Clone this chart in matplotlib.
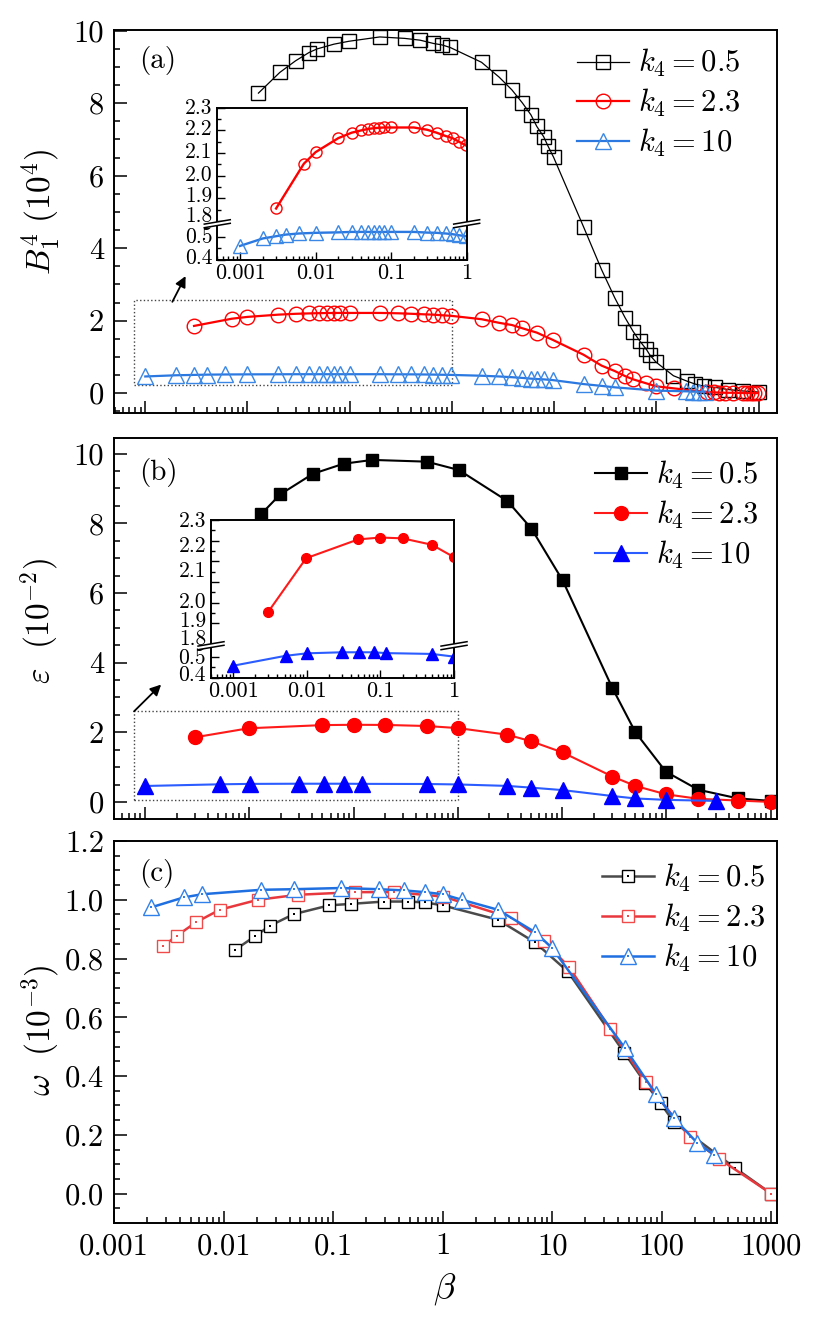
import numpy as np
import matplotlib as mpl
import matplotlib.pyplot as plt
from matplotlib import ticker
from matplotlib.patches import Polygon, Rectangle

mpl.rcParams['font.family'] = 'serif'
mpl.rcParams['font.serif'] = ['cmr10']
mpl.rcParams['mathtext.fontset'] = 'cm'
mpl.rcParams['axes.unicode_minus'] = False
mpl.rcParams['axes.formatter.use_mathtext'] = True

# ---- (a) B_1^4 (10^4) ----
a_x_k05 = [0.0128, 0.0207, 0.0295, 0.040, 0.048, 0.070, 0.098, 0.197, 0.345, 0.49, 0.66, 0.80, 0.96,
           1.95, 2.9, 3.86, 4.89, 5.93, 6.77, 7.89, 8.74, 9.88, 19.4, 29.1, 39.2, 49.5, 59.4, 69.2,
           79.8, 86.6, 98.9, 147, 200, 240, 290, 375, 500, 700, 1000]
a_y_k05 = [8.28, 8.85, 9.17, 9.40, 9.50, 9.63, 9.71, 9.83, 9.79, 9.74, 9.65, 9.61, 9.54,
           9.13, 8.72, 8.37, 8.01, 7.68, 7.36, 7.08, 6.81, 6.51, 4.59, 3.41, 2.63, 2.08, 1.70, 1.43,
           1.21, 1.05, 0.86, 0.48, 0.33, 0.25, 0.19, 0.16, 0.10, 0.06, 0.03]
a_x_k23 = [0.003, 0.007, 0.01, 0.02, 0.03, 0.04, 0.05, 0.06, 0.07, 0.08, 0.1, 0.2, 0.3, 0.4, 0.53,
           0.65, 0.8, 0.98, 1.95, 2.9, 3.86, 4.89, 6.77, 9.7, 19.4, 29.1, 39.2, 49.5, 59.4, 79.8,
           98.9, 150, 310, 366, 413, 470, 567, 700, 767, 838, 903, 978]
a_y_k23 = [1.855, 2.053, 2.104, 2.166, 2.19, 2.20, 2.207, 2.21, 2.212, 2.213, 2.213, 2.213, 2.203,
           2.19, 2.175, 2.166, 2.149, 2.134, 2.04, 1.94, 1.88, 1.79, 1.67, 1.47, 1.06, 0.76, 0.61,
           0.47, 0.38, 0.27, 0.19, 0.13, 0.03, 0.02, 0.015, 0.01, 0.01, 0.005, 0.0, 0.0, 0.0, 0.0]
a_x_k10 = [0.001, 0.002, 0.003, 0.004, 0.006, 0.01, 0.02, 0.03, 0.04, 0.05, 0.06, 0.07, 0.08, 0.1,
           0.2, 0.3, 0.4, 0.53, 0.65, 0.8, 0.98, 1.95, 2.9, 3.86, 4.89, 5.93, 6.77, 7.89, 9.7, 19.4,
           29.1, 39.2, 100, 195, 230, 260, 300]
a_y_k10 = [0.46, 0.493, 0.503, 0.51, 0.515, 0.518, 0.52, 0.522, 0.522, 0.522, 0.522, 0.522, 0.522,
           0.522, 0.522, 0.519, 0.518, 0.515, 0.512, 0.507, 0.503, 0.48, 0.46, 0.44, 0.42, 0.40,
           0.39, 0.38, 0.36, 0.25, 0.20, 0.16, 0.07, 0.05, 0.045, 0.04, 0.04]

# ---- (b) epsilon (10^-2) ----
b_x_k05 = [0.013, 0.0197, 0.0405, 0.0798, 0.151, 0.502, 1.02, 2.98, 5.06, 10.1, 30.3, 50.4, 98.6,
           202, 488, 1000]
b_y_k05 = [8.27, 8.83, 9.42, 9.71, 9.82, 9.77, 9.53, 8.64, 7.85, 6.36, 3.27, 2.0, 0.87, 0.35, 0.10,
           0.03]
b_x_k23 = [0.003, 0.0098, 0.05, 0.1, 0.2, 0.5, 1.0, 2.98, 5.06, 10.1, 30.3, 50.4, 98.6, 202, 488,
           1000]
b_y_k23 = [1.856, 2.115, 2.206, 2.215, 2.211, 2.18, 2.12, 1.93, 1.74, 1.42, 0.73, 0.46, 0.22, 0.09,
           0.04, 0.0]
b_x_k10 = [0.001, 0.00516, 0.0101, 0.0299, 0.0517, 0.0809, 0.119, 0.5, 1.0, 2.98, 5.06, 10.1, 30.3,
           50.4, 98.6, 296]
b_y_k10 = [0.458, 0.506, 0.518, 0.523, 0.523, 0.523, 0.519, 0.515, 0.502, 0.46, 0.41, 0.34, 0.17,
           0.10, 0.06, 0.03]

# ---- (c) omega (10^-3) ----
c_x_k05 = [0.0128, 0.0195, 0.0263, 0.0437, 0.092, 0.145, 0.292, 0.485, 0.697, 1.0, 3.2, 6.97, 13.9,
           45.5, 71, 98, 129, 469, 1000]
c_y_k05 = [0.830, 0.877, 0.911, 0.951, 0.981, 0.986, 0.994, 0.994, 0.991, 0.981, 0.932, 0.855,
           0.756, 0.480, 0.376, 0.307, 0.244, 0.087, 0.0]
c_x_k23 = [0.00278, 0.00372, 0.00558, 0.0092, 0.0206, 0.0475, 0.157, 0.36, 1.01, 4.25, 8.4, 14.3,
           34.1, 72, 180, 336, 1000]
c_y_k23 = [0.841, 0.877, 0.923, 0.966, 1.0, 1.017, 1.026, 1.026, 1.011, 0.938, 0.861, 0.770, 0.560,
           0.379, 0.193, 0.118, 0.0]
c_x_k10 = [0.00217, 0.00432, 0.0064, 0.0221, 0.044, 0.118, 0.26, 0.44, 0.685, 1.0, 1.5, 3.2, 7.03,
           9.98, 46, 89, 129, 212, 300]
c_y_k10 = [0.974, 1.008, 1.019, 1.034, 1.036, 1.040, 1.036, 1.032, 1.026, 1.019, 1.0, 0.966, 0.889,
           0.836, 0.496, 0.338, 0.257, 0.172, 0.133]

labels = [r'$k_4=0.5$', r'$k_4=2.3$', r'$k_4=10$']
main_xticks = [0.001, 0.01, 0.1, 1, 10, 100, 1000]
inset_xticks = [0.001, 0.01, 0.1, 1]
inset_yticks = [0.4, 0.5, 1.8, 1.9, 2.0, 2.1, 2.2, 2.3]
inset_yminor = [0.45, 1.85, 1.95, 2.05, 2.15, 2.25]
# where the inset tick labels sit in the original (axes fraction, bottom=0)
insa_label_pos = [0.01, 0.15, 0.285, 0.415, 0.553, 0.705, 0.857, 1.0]
insb_label_pos = [0.017, 0.125, 0.245, 0.356, 0.479, 0.676, 0.835, 0.994]
xtick_fmt = ticker.FuncFormatter(lambda v, p: '%g' % v)

FW, FH = 815, 1318
fig = plt.figure(figsize=(FW / 100, FH / 100), dpi=100)
axa = fig.add_axes([0.1394, 0.6866, 0.8134, 0.2906])
axb = fig.add_axes([0.1394, 0.3786, 0.8134, 0.2891])
axc = fig.add_axes([0.1394, 0.0721, 0.8134, 0.2898])

LEG = dict(loc='upper left', frameon=False, fontsize=22, handlelength=1.7, handletextpad=0.3,
           labelspacing=0.25, borderpad=0, borderaxespad=0)


def style_main(ax):
    ax.set_xscale('log')
    ax.tick_params(which='both', direction='in', top=False, right=False, labelsize=22, pad=7)
    ax.tick_params(which='major', length=9, width=1.1)
    ax.tick_params(which='minor', length=4.5, width=1.1)
    for s in ax.spines.values():
        s.set_linewidth(1.4)
    ax.xaxis.set_major_locator(ticker.FixedLocator(main_xticks))
    ax.xaxis.set_minor_locator(ticker.LogLocator(base=10, subs=np.arange(2, 10), numticks=20))
    ax.xaxis.set_major_formatter(xtick_fmt)
    ax.xaxis.set_minor_formatter(ticker.NullFormatter())


def style_inset(ax, c, hi_bot, label_pos):
    ax.set_xscale('log')
    xp = [-10, 0.53, hi_bot, 10]
    fp = [-10 + c, 0.53 + c, hi_bot, 10]
    ax.set_yscale('function', functions=(lambda y: np.interp(y, xp, fp),
                                         lambda y: np.interp(y, fp, xp)))
    ax.set_xlim(0.0005, 1)
    ax.set_ylim(0.4, 2.3)
    ax.xaxis.set_major_locator(ticker.FixedLocator(inset_xticks))
    ax.xaxis.set_minor_locator(ticker.LogLocator(base=10, subs=np.arange(2, 10), numticks=20))
    ax.xaxis.set_major_formatter(xtick_fmt)
    ax.xaxis.set_minor_formatter(ticker.NullFormatter())
    ax.yaxis.set_major_locator(ticker.FixedLocator(inset_yticks))
    ax.yaxis.set_minor_locator(ticker.FixedLocator(inset_yminor))
    ax.yaxis.set_major_formatter(ticker.NullFormatter())
    ax.tick_params(which='both', direction='in', top=False, right=False, labelsize=16, pad=3)
    ax.tick_params(which='major', length=6, width=1.0)
    ax.tick_params(which='minor', length=3, width=1.0)
    for s in ax.spines.values():
        s.set_linewidth(1.4)
    # tick labels placed as in the original figure
    dx = 5 / (ax.get_position().width * FW)
    for v, yf in zip(inset_yticks, label_pos):
        ax.text(-dx, yf, '%.1f' % v, transform=ax.transAxes, ha='right', va='center',
                fontsize=15.5, clip_on=False)


def add_break(ax, yf):
    pos = ax.get_position()
    wpx, hpx = pos.width * FW, pos.height * FH
    dx, rise, g = 13 / wpx, 2.2 / hpx, 1.8 / hpx
    for x0 in (0, 1):
        ax.add_patch(Polygon([(x0 - dx, yf - rise - g), (x0 + dx, yf + rise - g),
                              (x0 + dx, yf + rise + g), (x0 - dx, yf - rise + g)],
                             closed=True, transform=ax.transAxes, fc='white', ec='none',
                             clip_on=False, zorder=5))
        for s in (-g, g):
            ax.plot([x0 - dx, x0 + dx], [yf - rise + s, yf + rise + s], transform=ax.transAxes,
                    color='k', lw=1.1, clip_on=False, zorder=6)


# ---------------- panel (a) ----------------
style_main(axa)
axa.plot(a_x_k05, a_y_k05, '-s', color='k', lw=0.9, ms=10, mfc='none', mec='k', mew=1.0,
         label=labels[0])
axa.plot(a_x_k23, a_y_k23, '-o', color='#ff0000', lw=1.6, ms=10.5, mfc='none', mec='#ff0000',
         mew=1.0, label=labels[1])
axa.plot(a_x_k10, a_y_k10, '-^', color='#2a78e0', lw=1.6, ms=12, mfc='none', mec='#3a87e6',
         mew=1.0, label=labels[2])
axa.set_xlim(0.00049, 1500)
axa.set_ylim(-0.55, 10.02)
axa.yaxis.set_major_locator(ticker.MultipleLocator(2))
axa.yaxis.set_minor_locator(ticker.MultipleLocator(0.5))
axa.yaxis.set_major_formatter(ticker.FormatStrFormatter('%d'))
axa.tick_params(labelbottom=False)
axa.set_ylabel(r'$B_1^4\ (10^4)$', fontsize=24)
axa.yaxis.set_label_coords(-0.078, 0.525)
axa.text(0.038, 0.92, '(a)', transform=axa.transAxes, fontsize=21, va='center')
axa.legend(bbox_to_anchor=(0.699, 0.955), **LEG)
axa.add_patch(Rectangle((0.00078, 0.23), 1 - 0.00078, 2.57 - 0.23, fill=False, ls=':', lw=1.0,
                        ec='#444444'))
axa.annotate('', xy=(0.00248, 3.23), xytext=(0.00184, 2.52),
             arrowprops=dict(arrowstyle='-|>', color='k', lw=1.3, mutation_scale=16,
                             shrinkA=0, shrinkB=0))

insa = fig.add_axes([0.2666, 0.8031, 0.306, 0.1151])
style_inset(insa, 1.2295, 1.78, insa_label_pos)
insa.plot(a_x_k23, a_y_k23, '-o', color='#ff0000', lw=1.7, ms=8, mfc='none', mec='#ff0000', mew=1.0)
insa.plot(a_x_k10, a_y_k10, '-^', color='#2a78e0', lw=1.7, ms=10, mfc='none', mec='#3a87e6',
          mew=1.0)
add_break(insa, 0.236)

# ---------------- panel (b) ----------------
style_main(axb)
axb.plot(b_x_k05, b_y_k05, '-s', color='k', lw=1.5, ms=9, label=labels[0])
axb.plot(b_x_k23, b_y_k23, '-o', color='#ff1a1a', lw=1.5, ms=10, mfc='#ff0000', mec='#ff0000',
         label=labels[1])
axb.plot(b_x_k10, b_y_k10, '-^', color='#2b5cff', lw=1.5, ms=11, mfc='#0000ff', mec='#0000ff',
         label=labels[2])
axb.set_xlim(0.000497, 1138)
axb.set_ylim(-0.49, 10.45)
axb.yaxis.set_major_locator(ticker.MultipleLocator(2))
axb.yaxis.set_minor_locator(ticker.MultipleLocator(0.5))
axb.yaxis.set_major_formatter(ticker.FormatStrFormatter('%d'))
axb.tick_params(labelbottom=False)
axb.set_ylabel(r'$\varepsilon\ \ (10^{-2})$', fontsize=24)
axb.yaxis.set_label_coords(-0.078, 0.52)
axb.text(0.038, 0.91, '(b)', transform=axb.transAxes, fontsize=21, va='center')
axb.legend(bbox_to_anchor=(0.726, 0.945), **LEG)
axb.add_patch(Rectangle((0.00078, 0.06), 0.99 - 0.00078, 2.6 - 0.06, fill=False, ls=':', lw=1.0,
                        ec='#444444'))
axb.annotate('', xy=(0.00142, 3.37), xytext=(0.00078, 2.6),
             arrowprops=dict(arrowstyle='-|>', color='k', lw=1.3, mutation_scale=16,
                             shrinkA=0, shrinkB=0))

insb = fig.add_axes([0.2589, 0.4858, 0.2982, 0.1197])
style_inset(insb, 1.137, 1.75, insb_label_pos)
insb.plot(b_x_k23, b_y_k23, '-o', color='#ff1a1a', lw=1.5, ms=7, mfc='#ff0000', mec='#ff0000')
insb.plot(b_x_k10, b_y_k10, '-^', color='#2b5cff', lw=1.5, ms=9, mfc='#0000ff', mec='#0000ff')
add_break(insb, 0.203)

# ---------------- panel (c) ----------------
style_main(axc)
c_specs = [(c_x_k05, c_y_k05, 's', '#4a4a4a', 'k', 8),
           (c_x_k23, c_y_k23, 's', '#e8383d', '#f04a4a', 8),
           (c_x_k10, c_y_k10, '^', '#1f6fe0', '#2f80ea', 12)]
handles = []
for (xs, ys, m, lc, mc, ms) in c_specs:
    ln, = axc.plot(xs, ys, '-' + m, color=lc, lw=1.8, ms=ms, mfc='white', mec=mc, mew=1.0)
    dt, = axc.plot(xs, ys, 's', ms=1.5, mfc=mc, mec=mc, mew=0, ls='none')
    handles.append((ln, dt))
axc.set_xlim(0.00099, 1120)
axc.set_ylim(-0.1, 1.2)
axc.yaxis.set_major_locator(ticker.MultipleLocator(0.2))
axc.yaxis.set_minor_locator(ticker.MultipleLocator(0.05))
axc.yaxis.set_major_formatter(ticker.FormatStrFormatter('%.1f'))
axc.set_ylabel(r'$\omega\ \ (10^{-3})$', fontsize=24)
axc.yaxis.set_label_coords(-0.078, 0.505)
axc.set_xlabel(r'$\beta$', fontsize=26, labelpad=8)
axc.text(0.038, 0.915, '(c)', transform=axc.transAxes, fontsize=21, va='center')
axc.legend(handles, labels, bbox_to_anchor=(0.737, 0.945), **LEG)

fig.savefig('out.png', dpi=100)
